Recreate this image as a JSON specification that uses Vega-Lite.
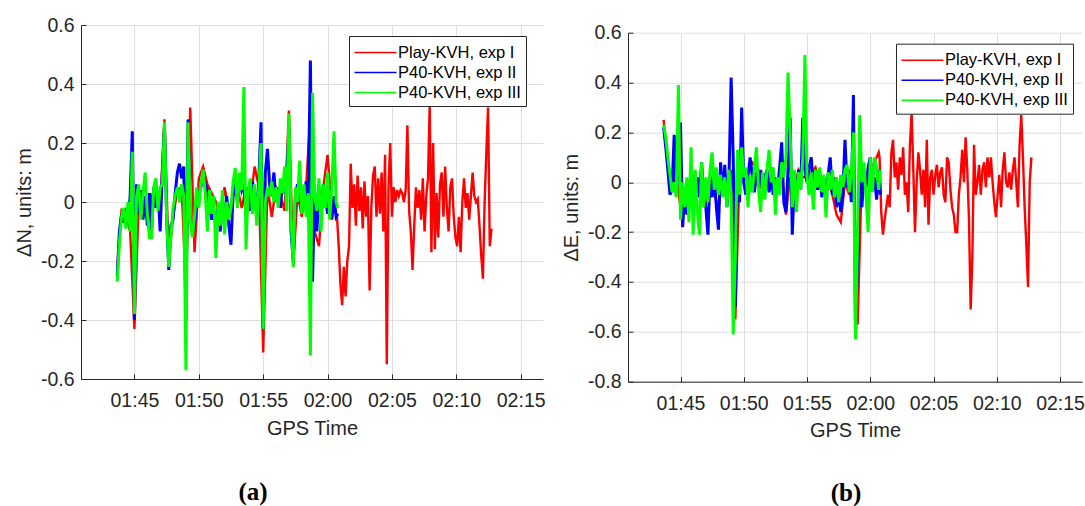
{
"$schema": "https://vega.github.io/schema/vega-lite/v6.json",
"background": "white",
"padding": {"left": 14, "top": 15, "right": 0, "bottom": 0},
"config": {
 "locale": {"number": {"decimal": ".", "thousands": ",", "grouping": [3], "currency": ["$", ""], "minus": "-"}},
 "view": {"stroke": null},
 "font": "Liberation Sans",
 "axis": {"labelFont": "Liberation Sans", "labelFontSize": 19.5, "labelColor": "#262626", "titleFont": "Liberation Sans", "titleFontSize": 20, "titleFontWeight": "normal", "titleColor": "#262626", "domainColor": "#262626", "tickColor": "#262626", "tickSize": -5, "gridColor": "#dfdfdf", "grid": true},
 "axisX": {"labelPadding": 17.5, "titlePadding": 8, "labelFlush": false, "labelOverlap": false},
 "axisY": {"labelPadding": 12, "titlePadding": 6},
 "concat": {"spacing": 15},
 "legend": {"orient": "none", "legendX": 268, "legendY": 11, "title": null, "symbolType": "M-2,0H2", "symbolSize": 441, "symbolStrokeWidth": 1.5, "symbolOffset": 10, "labelOffset": 11, "padding": 5, "rowPadding": 0, "strokeColor": "#262626", "fillColor": "#ffffff", "labelFont": "Liberation Sans", "labelFontSize": 16.5, "labelColor": "#000000"}
},
"data": {"values": [
{"s":"Play-KVH, exp I","t":"2000-01-01T01:43:40Z","n":-0.22,"e":0.25},
{"s":"Play-KVH, exp I","t":"2000-01-01T01:44:00Z","n":-0.03,"e":0.06},
{"s":"Play-KVH, exp I","t":"2000-01-01T01:44:20Z","n":-0.05,"e":-0.02},
{"s":"Play-KVH, exp I","t":"2000-01-01T01:44:40Z","n":-0.1,"e":0.02},
{"s":"Play-KVH, exp I","t":"2000-01-01T01:45:00Z","n":-0.43,"e":-0.1},
{"s":"Play-KVH, exp I","t":"2000-01-01T01:45:20Z","n":0.0,"e":-0.05},
{"s":"Play-KVH, exp I","t":"2000-01-01T01:45:40Z","n":-0.03,"e":0.0},
{"s":"Play-KVH, exp I","t":"2000-01-01T01:46:00Z","n":-0.05,"e":-0.08},
{"s":"Play-KVH, exp I","t":"2000-01-01T01:46:20Z","n":0.02,"e":0.0},
{"s":"Play-KVH, exp I","t":"2000-01-01T01:46:40Z","n":0.05,"e":-0.05},
{"s":"Play-KVH, exp I","t":"2000-01-01T01:47:00Z","n":-0.02,"e":-0.08},
{"s":"Play-KVH, exp I","t":"2000-01-01T01:47:20Z","n":0.28,"e":0.03},
{"s":"Play-KVH, exp I","t":"2000-01-01T01:47:40Z","n":-0.2,"e":-0.05},
{"s":"Play-KVH, exp I","t":"2000-01-01T01:48:00Z","n":-0.05,"e":-0.1},
{"s":"Play-KVH, exp I","t":"2000-01-01T01:48:20Z","n":0.04,"e":0.02},
{"s":"Play-KVH, exp I","t":"2000-01-01T01:48:40Z","n":0.05,"e":-0.03},
{"s":"Play-KVH, exp I","t":"2000-01-01T01:49:00Z","n":-0.3,"e":0.05},
{"s":"Play-KVH, exp I","t":"2000-01-01T01:49:20Z","n":0.32,"e":-0.55},
{"s":"Play-KVH, exp I","t":"2000-01-01T01:49:40Z","n":-0.17,"e":0.05},
{"s":"Play-KVH, exp I","t":"2000-01-01T01:50:00Z","n":0.08,"e":0.02},
{"s":"Play-KVH, exp I","t":"2000-01-01T01:50:20Z","n":0.12,"e":0.04},
{"s":"Play-KVH, exp I","t":"2000-01-01T01:50:40Z","n":0.06,"e":0.08},
{"s":"Play-KVH, exp I","t":"2000-01-01T01:51:00Z","n":0.03,"e":0.06},
{"s":"Play-KVH, exp I","t":"2000-01-01T01:51:20Z","n":0.0,"e":-0.02},
{"s":"Play-KVH, exp I","t":"2000-01-01T01:51:40Z","n":-0.05,"e":0.0},
{"s":"Play-KVH, exp I","t":"2000-01-01T01:52:00Z","n":0.05,"e":0.02},
{"s":"Play-KVH, exp I","t":"2000-01-01T01:52:20Z","n":-0.03,"e":-0.04},
{"s":"Play-KVH, exp I","t":"2000-01-01T01:52:40Z","n":0.02,"e":0.0},
{"s":"Play-KVH, exp I","t":"2000-01-01T01:53:00Z","n":0.05,"e":0.03},
{"s":"Play-KVH, exp I","t":"2000-01-01T01:53:20Z","n":-0.02,"e":-0.13},
{"s":"Play-KVH, exp I","t":"2000-01-01T01:53:40Z","n":0.05,"e":0.02},
{"s":"Play-KVH, exp I","t":"2000-01-01T01:54:00Z","n":0.0,"e":-0.03},
{"s":"Play-KVH, exp I","t":"2000-01-01T01:54:20Z","n":0.12,"e":0.05},
{"s":"Play-KVH, exp I","t":"2000-01-01T01:54:40Z","n":0.05,"e":0.02},
{"s":"Play-KVH, exp I","t":"2000-01-01T01:55:00Z","n":-0.51,"e":0.02},
{"s":"Play-KVH, exp I","t":"2000-01-01T01:55:20Z","n":0.05,"e":0.04},
{"s":"Play-KVH, exp I","t":"2000-01-01T01:55:40Z","n":-0.05,"e":0.06},
{"s":"Play-KVH, exp I","t":"2000-01-01T01:56:00Z","n":0.05,"e":0.0},
{"s":"Play-KVH, exp I","t":"2000-01-01T01:56:20Z","n":0.02,"e":-0.04},
{"s":"Play-KVH, exp I","t":"2000-01-01T01:56:40Z","n":-0.03,"e":0.02},
{"s":"Play-KVH, exp I","t":"2000-01-01T01:57:00Z","n":0.31,"e":-0.05},
{"s":"Play-KVH, exp I","t":"2000-01-01T01:57:20Z","n":-0.22,"e":-0.13},
{"s":"Play-KVH, exp I","t":"2000-01-01T01:57:40Z","n":0.03,"e":-0.16},
{"s":"Play-KVH, exp I","t":"2000-01-01T01:58:00Z","n":-0.05,"e":0.0},
{"s":"Play-KVH, exp I","t":"2000-01-01T01:58:20Z","n":0.05,"e":-0.05},
{"s":"Play-KVH, exp I","t":"2000-01-01T01:58:40Z","n":0.3,"e":0.1},
{"s":"Play-KVH, exp I","t":"2000-01-01T01:59:00Z","n":-0.1,"e":-0.57},
{"s":"Play-KVH, exp I","t":"2000-01-01T01:59:20Z","n":-0.15,"e":0.05},
{"s":"Play-KVH, exp I","t":"2000-01-01T01:59:40Z","n":0.05,"e":0.02},
{"s":"Play-KVH, exp I","t":"2000-01-01T02:00:00Z","n":0.16,"e":0.05},
{"s":"Play-KVH, exp I","t":"2000-01-01T02:00:20Z","n":-0.02,"e":0.08},
{"s":"Play-KVH, exp I","t":"2000-01-01T02:00:40Z","n":-0.04,"e":0.12},
{"s":"Play-KVH, exp I","t":"2000-01-01T02:00:44Z","n":-0.05,"e":0.1},
{"s":"Play-KVH, exp I","t":"2000-01-01T02:00:52Z","n":-0.15,"e":-0.12},
{"s":"Play-KVH, exp I","t":"2000-01-01T02:01:00Z","n":-0.28,"e":-0.21},
{"s":"Play-KVH, exp I","t":"2000-01-01T02:01:08Z","n":-0.35,"e":-0.15},
{"s":"Play-KVH, exp I","t":"2000-01-01T02:01:16Z","n":-0.22,"e":-0.1},
{"s":"Play-KVH, exp I","t":"2000-01-01T02:01:24Z","n":-0.32,"e":-0.05},
{"s":"Play-KVH, exp I","t":"2000-01-01T02:01:32Z","n":-0.2,"e":-0.1},
{"s":"Play-KVH, exp I","t":"2000-01-01T02:01:40Z","n":-0.15,"e":0.12},
{"s":"Play-KVH, exp I","t":"2000-01-01T02:01:48Z","n":0.13,"e":0.17},
{"s":"Play-KVH, exp I","t":"2000-01-01T02:01:56Z","n":-0.02,"e":0.02},
{"s":"Play-KVH, exp I","t":"2000-01-01T02:02:04Z","n":0.06,"e":0.08},
{"s":"Play-KVH, exp I","t":"2000-01-01T02:02:12Z","n":-0.08,"e":-0.03},
{"s":"Play-KVH, exp I","t":"2000-01-01T02:02:20Z","n":0.09,"e":0.1},
{"s":"Play-KVH, exp I","t":"2000-01-01T02:02:28Z","n":-0.03,"e":0.03},
{"s":"Play-KVH, exp I","t":"2000-01-01T02:02:36Z","n":0.05,"e":0.14},
{"s":"Play-KVH, exp I","t":"2000-01-01T02:02:44Z","n":-0.09,"e":-0.05},
{"s":"Play-KVH, exp I","t":"2000-01-01T02:02:52Z","n":0.07,"e":0.0},
{"s":"Play-KVH, exp I","t":"2000-01-01T02:03:00Z","n":-0.05,"e":-0.12},
{"s":"Play-KVH, exp I","t":"2000-01-01T02:03:08Z","n":0.02,"e":0.15},
{"s":"Play-KVH, exp I","t":"2000-01-01T02:03:16Z","n":-0.3,"e":0.28},
{"s":"Play-KVH, exp I","t":"2000-01-01T02:03:24Z","n":-0.02,"e":0.05},
{"s":"Play-KVH, exp I","t":"2000-01-01T02:03:32Z","n":0.09,"e":-0.2},
{"s":"Play-KVH, exp I","t":"2000-01-01T02:03:40Z","n":0.12,"e":0.0},
{"s":"Play-KVH, exp I","t":"2000-01-01T02:03:48Z","n":-0.05,"e":0.12},
{"s":"Play-KVH, exp I","t":"2000-01-01T02:03:56Z","n":0.08,"e":0.05},
{"s":"Play-KVH, exp I","t":"2000-01-01T02:04:04Z","n":-0.04,"e":-0.05},
{"s":"Play-KVH, exp I","t":"2000-01-01T02:04:12Z","n":0.1,"e":0.05},
{"s":"Play-KVH, exp I","t":"2000-01-01T02:04:20Z","n":-0.1,"e":-0.1},
{"s":"Play-KVH, exp I","t":"2000-01-01T02:04:28Z","n":0.16,"e":0.17},
{"s":"Play-KVH, exp I","t":"2000-01-01T02:04:36Z","n":-0.55,"e":-0.17},
{"s":"Play-KVH, exp I","t":"2000-01-01T02:04:44Z","n":0.05,"e":0.02},
{"s":"Play-KVH, exp I","t":"2000-01-01T02:04:52Z","n":0.2,"e":0.05},
{"s":"Play-KVH, exp I","t":"2000-01-01T02:05:00Z","n":-0.05,"e":-0.05},
{"s":"Play-KVH, exp I","t":"2000-01-01T02:05:08Z","n":0.05,"e":0.03},
{"s":"Play-KVH, exp I","t":"2000-01-01T02:05:16Z","n":0.0,"e":0.07},
{"s":"Play-KVH, exp I","t":"2000-01-01T02:05:24Z","n":0.04,"e":-0.02},
{"s":"Play-KVH, exp I","t":"2000-01-01T02:05:32Z","n":0.02,"e":0.04},
{"s":"Play-KVH, exp I","t":"2000-01-01T02:05:40Z","n":0.04,"e":0.06},
{"s":"Play-KVH, exp I","t":"2000-01-01T02:05:48Z","n":0.03,"e":-0.05},
{"s":"Play-KVH, exp I","t":"2000-01-01T02:05:56Z","n":0.0,"e":-0.08},
{"s":"Play-KVH, exp I","t":"2000-01-01T02:06:04Z","n":0.04,"e":0.1},
{"s":"Play-KVH, exp I","t":"2000-01-01T02:06:12Z","n":0.26,"e":0.08},
{"s":"Play-KVH, exp I","t":"2000-01-01T02:06:20Z","n":-0.03,"e":-0.03},
{"s":"Play-KVH, exp I","t":"2000-01-01T02:06:28Z","n":-0.1,"e":-0.1},
{"s":"Play-KVH, exp I","t":"2000-01-01T02:06:36Z","n":-0.23,"e":-0.13},
{"s":"Play-KVH, exp I","t":"2000-01-01T02:06:44Z","n":-0.08,"e":-0.2},
{"s":"Play-KVH, exp I","t":"2000-01-01T02:06:52Z","n":0.05,"e":-0.2},
{"s":"Play-KVH, exp I","t":"2000-01-01T02:07:00Z","n":-0.02,"e":-0.05},
{"s":"Play-KVH, exp I","t":"2000-01-01T02:07:08Z","n":0.04,"e":0.02},
{"s":"Play-KVH, exp I","t":"2000-01-01T02:07:16Z","n":-0.06,"e":0.13},
{"s":"Play-KVH, exp I","t":"2000-01-01T02:07:24Z","n":0.08,"e":0.0},
{"s":"Play-KVH, exp I","t":"2000-01-01T02:07:32Z","n":-0.1,"e":0.18},
{"s":"Play-KVH, exp I","t":"2000-01-01T02:07:40Z","n":0.02,"e":0.05},
{"s":"Play-KVH, exp I","t":"2000-01-01T02:07:48Z","n":0.08,"e":-0.15},
{"s":"Play-KVH, exp I","t":"2000-01-01T02:07:56Z","n":0.33,"e":-0.51},
{"s":"Play-KVH, exp I","t":"2000-01-01T02:08:04Z","n":-0.17,"e":-0.3},
{"s":"Play-KVH, exp I","t":"2000-01-01T02:08:12Z","n":0.2,"e":0.15},
{"s":"Play-KVH, exp I","t":"2000-01-01T02:08:20Z","n":-0.16,"e":-0.05},
{"s":"Play-KVH, exp I","t":"2000-01-01T02:08:28Z","n":0.03,"e":0.0},
{"s":"Play-KVH, exp I","t":"2000-01-01T02:08:36Z","n":-0.12,"e":0.07},
{"s":"Play-KVH, exp I","t":"2000-01-01T02:08:44Z","n":0.06,"e":-0.05},
{"s":"Play-KVH, exp I","t":"2000-01-01T02:08:52Z","n":0.1,"e":0.05},
{"s":"Play-KVH, exp I","t":"2000-01-01T02:09:00Z","n":-0.05,"e":0.08},
{"s":"Play-KVH, exp I","t":"2000-01-01T02:09:08Z","n":0.12,"e":-0.02},
{"s":"Play-KVH, exp I","t":"2000-01-01T02:09:16Z","n":-0.02,"e":0.1},
{"s":"Play-KVH, exp I","t":"2000-01-01T02:09:24Z","n":-0.1,"e":0.02},
{"s":"Play-KVH, exp I","t":"2000-01-01T02:09:32Z","n":0.05,"e":0.1},
{"s":"Play-KVH, exp I","t":"2000-01-01T02:09:40Z","n":0.08,"e":0.0},
{"s":"Play-KVH, exp I","t":"2000-01-01T02:09:48Z","n":-0.05,"e":-0.08},
{"s":"Play-KVH, exp I","t":"2000-01-01T02:09:56Z","n":-0.12,"e":-0.14},
{"s":"Play-KVH, exp I","t":"2000-01-01T02:10:04Z","n":-0.15,"e":-0.05},
{"s":"Play-KVH, exp I","t":"2000-01-01T02:10:12Z","n":-0.05,"e":0.03},
{"s":"Play-KVH, exp I","t":"2000-01-01T02:10:20Z","n":-0.17,"e":-0.1},
{"s":"Play-KVH, exp I","t":"2000-01-01T02:10:28Z","n":0.0,"e":0.05},
{"s":"Play-KVH, exp I","t":"2000-01-01T02:10:36Z","n":0.08,"e":0.12},
{"s":"Play-KVH, exp I","t":"2000-01-01T02:10:44Z","n":-0.02,"e":0.0},
{"s":"Play-KVH, exp I","t":"2000-01-01T02:10:52Z","n":0.03,"e":-0.02},
{"s":"Play-KVH, exp I","t":"2000-01-01T02:11:00Z","n":-0.06,"e":0.04},
{"s":"Play-KVH, exp I","t":"2000-01-01T02:11:08Z","n":0.02,"e":-0.03},
{"s":"Play-KVH, exp I","t":"2000-01-01T02:11:16Z","n":0.1,"e":0.05},
{"s":"Play-KVH, exp I","t":"2000-01-01T02:11:24Z","n":0.02,"e":0.1},
{"s":"Play-KVH, exp I","t":"2000-01-01T02:11:32Z","n":0.0,"e":0.0},
{"s":"Play-KVH, exp I","t":"2000-01-01T02:11:40Z","n":0.01,"e":-0.1},
{"s":"Play-KVH, exp I","t":"2000-01-01T02:11:48Z","n":-0.08,"e":0.15},
{"s":"Play-KVH, exp I","t":"2000-01-01T02:11:56Z","n":-0.18,"e":0.27},
{"s":"Play-KVH, exp I","t":"2000-01-01T02:12:04Z","n":-0.26,"e":0.1},
{"s":"Play-KVH, exp I","t":"2000-01-01T02:12:12Z","n":0.0,"e":-0.1},
{"s":"Play-KVH, exp I","t":"2000-01-01T02:12:20Z","n":0.17,"e":-0.25},
{"s":"Play-KVH, exp I","t":"2000-01-01T02:12:28Z","n":0.32,"e":-0.42},
{"s":"Play-KVH, exp I","t":"2000-01-01T02:12:36Z","n":-0.15,"e":0.0},
{"s":"Play-KVH, exp I","t":"2000-01-01T02:12:44Z","n":-0.09,"e":0.1},
{"s":"P40-KVH, exp II","t":"2000-01-01T01:43:40Z","n":-0.25,"e":0.22},
{"s":"P40-KVH, exp II","t":"2000-01-01T01:43:50Z","n":-0.1,"e":0.14},
{"s":"P40-KVH, exp II","t":"2000-01-01T01:44:00Z","n":-0.04,"e":0.05},
{"s":"P40-KVH, exp II","t":"2000-01-01T01:44:10Z","n":-0.07,"e":-0.05},
{"s":"P40-KVH, exp II","t":"2000-01-01T01:44:20Z","n":-0.02,"e":-0.03},
{"s":"P40-KVH, exp II","t":"2000-01-01T01:44:30Z","n":-0.08,"e":0.19},
{"s":"P40-KVH, exp II","t":"2000-01-01T01:44:40Z","n":0.02,"e":-0.04},
{"s":"P40-KVH, exp II","t":"2000-01-01T01:44:50Z","n":0.24,"e":0.05},
{"s":"P40-KVH, exp II","t":"2000-01-01T01:45:00Z","n":-0.4,"e":0.24},
{"s":"P40-KVH, exp II","t":"2000-01-01T01:45:10Z","n":0.06,"e":-0.18},
{"s":"P40-KVH, exp II","t":"2000-01-01T01:45:20Z","n":-0.04,"e":-0.05},
{"s":"P40-KVH, exp II","t":"2000-01-01T01:45:30Z","n":0.04,"e":-0.13},
{"s":"P40-KVH, exp II","t":"2000-01-01T01:45:40Z","n":-0.06,"e":0.0},
{"s":"P40-KVH, exp II","t":"2000-01-01T01:45:50Z","n":0.02,"e":-0.08},
{"s":"P40-KVH, exp II","t":"2000-01-01T01:46:00Z","n":-0.08,"e":0.03},
{"s":"P40-KVH, exp II","t":"2000-01-01T01:46:10Z","n":0.03,"e":-0.1},
{"s":"P40-KVH, exp II","t":"2000-01-01T01:46:20Z","n":-0.1,"e":0.02},
{"s":"P40-KVH, exp II","t":"2000-01-01T01:46:30Z","n":0.05,"e":-0.06},
{"s":"P40-KVH, exp II","t":"2000-01-01T01:46:40Z","n":-0.02,"e":0.08},
{"s":"P40-KVH, exp II","t":"2000-01-01T01:46:50Z","n":0.04,"e":-0.05},
{"s":"P40-KVH, exp II","t":"2000-01-01T01:47:00Z","n":-0.1,"e":-0.1},
{"s":"P40-KVH, exp II","t":"2000-01-01T01:47:10Z","n":0.1,"e":-0.21},
{"s":"P40-KVH, exp II","t":"2000-01-01T01:47:20Z","n":0.26,"e":0.02},
{"s":"P40-KVH, exp II","t":"2000-01-01T01:47:30Z","n":-0.05,"e":-0.06},
{"s":"P40-KVH, exp II","t":"2000-01-01T01:47:40Z","n":-0.23,"e":0.03},
{"s":"P40-KVH, exp II","t":"2000-01-01T01:47:50Z","n":-0.08,"e":-0.1},
{"s":"P40-KVH, exp II","t":"2000-01-01T01:48:00Z","n":-0.06,"e":-0.19},
{"s":"P40-KVH, exp II","t":"2000-01-01T01:48:10Z","n":0.03,"e":0.08},
{"s":"P40-KVH, exp II","t":"2000-01-01T01:48:20Z","n":0.1,"e":-0.05},
{"s":"P40-KVH, exp II","t":"2000-01-01T01:48:30Z","n":0.13,"e":0.07},
{"s":"P40-KVH, exp II","t":"2000-01-01T01:48:40Z","n":0.08,"e":-0.1},
{"s":"P40-KVH, exp II","t":"2000-01-01T01:48:50Z","n":0.12,"e":0.02},
{"s":"P40-KVH, exp II","t":"2000-01-01T01:49:00Z","n":-0.4,"e":0.42},
{"s":"P40-KVH, exp II","t":"2000-01-01T01:49:10Z","n":0.28,"e":0.1},
{"s":"P40-KVH, exp II","t":"2000-01-01T01:49:20Z","n":-0.05,"e":-0.5},
{"s":"P40-KVH, exp II","t":"2000-01-01T01:49:30Z","n":-0.1,"e":0.05},
{"s":"P40-KVH, exp II","t":"2000-01-01T01:49:40Z","n":-0.08,"e":-0.08},
{"s":"P40-KVH, exp II","t":"2000-01-01T01:49:50Z","n":0.0,"e":0.3},
{"s":"P40-KVH, exp II","t":"2000-01-01T01:50:00Z","n":0.03,"e":0.0},
{"s":"P40-KVH, exp II","t":"2000-01-01T01:50:10Z","n":0.05,"e":-0.05},
{"s":"P40-KVH, exp II","t":"2000-01-01T01:50:20Z","n":0.1,"e":0.02},
{"s":"P40-KVH, exp II","t":"2000-01-01T01:50:30Z","n":0.06,"e":0.1},
{"s":"P40-KVH, exp II","t":"2000-01-01T01:50:40Z","n":0.04,"e":0.03},
{"s":"P40-KVH, exp II","t":"2000-01-01T01:50:50Z","n":-0.02,"e":-0.04},
{"s":"P40-KVH, exp II","t":"2000-01-01T01:51:00Z","n":-0.06,"e":0.04},
{"s":"P40-KVH, exp II","t":"2000-01-01T01:51:10Z","n":-0.03,"e":-0.02},
{"s":"P40-KVH, exp II","t":"2000-01-01T01:51:20Z","n":-0.08,"e":0.05},
{"s":"P40-KVH, exp II","t":"2000-01-01T01:51:30Z","n":-0.02,"e":-0.03},
{"s":"P40-KVH, exp II","t":"2000-01-01T01:51:40Z","n":-0.1,"e":0.02},
{"s":"P40-KVH, exp II","t":"2000-01-01T01:51:50Z","n":0.0,"e":0.05},
{"s":"P40-KVH, exp II","t":"2000-01-01T01:52:00Z","n":-0.06,"e":-0.04},
{"s":"P40-KVH, exp II","t":"2000-01-01T01:52:10Z","n":0.02,"e":0.03},
{"s":"P40-KVH, exp II","t":"2000-01-01T01:52:20Z","n":-0.08,"e":-0.05},
{"s":"P40-KVH, exp II","t":"2000-01-01T01:52:30Z","n":-0.145,"e":0.02},
{"s":"P40-KVH, exp II","t":"2000-01-01T01:52:40Z","n":0.03,"e":-0.03},
{"s":"P40-KVH, exp II","t":"2000-01-01T01:52:50Z","n":0.06,"e":0.06},
{"s":"P40-KVH, exp II","t":"2000-01-01T01:53:00Z","n":0.0,"e":0.16},
{"s":"P40-KVH, exp II","t":"2000-01-01T01:53:10Z","n":0.08,"e":-0.08},
{"s":"P40-KVH, exp II","t":"2000-01-01T01:53:20Z","n":0.04,"e":-0.12},
{"s":"P40-KVH, exp II","t":"2000-01-01T01:53:30Z","n":0.06,"e":0.05},
{"s":"P40-KVH, exp II","t":"2000-01-01T01:53:40Z","n":-0.05,"e":0.26},
{"s":"P40-KVH, exp II","t":"2000-01-01T01:53:50Z","n":0.05,"e":-0.21},
{"s":"P40-KVH, exp II","t":"2000-01-01T01:54:00Z","n":-0.03,"e":0.0},
{"s":"P40-KVH, exp II","t":"2000-01-01T01:54:10Z","n":0.07,"e":-0.05},
{"s":"P40-KVH, exp II","t":"2000-01-01T01:54:20Z","n":0.03,"e":0.05},
{"s":"P40-KVH, exp II","t":"2000-01-01T01:54:30Z","n":-0.04,"e":-0.03},
{"s":"P40-KVH, exp II","t":"2000-01-01T01:54:40Z","n":0.08,"e":0.26},
{"s":"P40-KVH, exp II","t":"2000-01-01T01:54:50Z","n":0.27,"e":0.05},
{"s":"P40-KVH, exp II","t":"2000-01-01T01:55:00Z","n":-0.43,"e":0.0},
{"s":"P40-KVH, exp II","t":"2000-01-01T01:55:10Z","n":0.1,"e":0.06},
{"s":"P40-KVH, exp II","t":"2000-01-01T01:55:20Z","n":0.18,"e":0.1},
{"s":"P40-KVH, exp II","t":"2000-01-01T01:55:30Z","n":0.06,"e":-0.02},
{"s":"P40-KVH, exp II","t":"2000-01-01T01:55:40Z","n":0.02,"e":0.05},
{"s":"P40-KVH, exp II","t":"2000-01-01T01:55:50Z","n":0.1,"e":-0.03},
{"s":"P40-KVH, exp II","t":"2000-01-01T01:56:00Z","n":0.0,"e":0.04},
{"s":"P40-KVH, exp II","t":"2000-01-01T01:56:10Z","n":0.05,"e":-0.06},
{"s":"P40-KVH, exp II","t":"2000-01-01T01:56:20Z","n":-0.02,"e":0.02},
{"s":"P40-KVH, exp II","t":"2000-01-01T01:56:30Z","n":0.06,"e":-0.08},
{"s":"P40-KVH, exp II","t":"2000-01-01T01:56:40Z","n":0.03,"e":0.03},
{"s":"P40-KVH, exp II","t":"2000-01-01T01:56:50Z","n":0.08,"e":0.1},
{"s":"P40-KVH, exp II","t":"2000-01-01T01:57:00Z","n":0.25,"e":-0.05},
{"s":"P40-KVH, exp II","t":"2000-01-01T01:57:10Z","n":-0.1,"e":0.02},
{"s":"P40-KVH, exp II","t":"2000-01-01T01:57:20Z","n":-0.2,"e":-0.1},
{"s":"P40-KVH, exp II","t":"2000-01-01T01:57:30Z","n":0.02,"e":-0.04},
{"s":"P40-KVH, exp II","t":"2000-01-01T01:57:40Z","n":0.06,"e":-0.12},
{"s":"P40-KVH, exp II","t":"2000-01-01T01:57:50Z","n":0.0,"e":-0.05},
{"s":"P40-KVH, exp II","t":"2000-01-01T01:58:00Z","n":0.05,"e":0.17},
{"s":"P40-KVH, exp II","t":"2000-01-01T01:58:10Z","n":-0.02,"e":-0.02},
{"s":"P40-KVH, exp II","t":"2000-01-01T01:58:20Z","n":0.07,"e":0.05},
{"s":"P40-KVH, exp II","t":"2000-01-01T01:58:30Z","n":0.02,"e":-0.08},
{"s":"P40-KVH, exp II","t":"2000-01-01T01:58:40Z","n":0.48,"e":0.35},
{"s":"P40-KVH, exp II","t":"2000-01-01T01:58:50Z","n":-0.27,"e":-0.6},
{"s":"P40-KVH, exp II","t":"2000-01-01T01:59:00Z","n":0.04,"e":-0.3},
{"s":"P40-KVH, exp II","t":"2000-01-01T01:59:10Z","n":-0.1,"e":0.05},
{"s":"P40-KVH, exp II","t":"2000-01-01T01:59:20Z","n":0.03,"e":-0.1},
{"s":"P40-KVH, exp II","t":"2000-01-01T01:59:30Z","n":-0.05,"e":0.03},
{"s":"P40-KVH, exp II","t":"2000-01-01T01:59:40Z","n":0.06,"e":-0.02},
{"s":"P40-KVH, exp II","t":"2000-01-01T01:59:50Z","n":0.02,"e":0.06},
{"s":"P40-KVH, exp II","t":"2000-01-01T02:00:00Z","n":-0.04,"e":0.1},
{"s":"P40-KVH, exp II","t":"2000-01-01T02:00:10Z","n":0.05,"e":-0.03},
{"s":"P40-KVH, exp II","t":"2000-01-01T02:00:20Z","n":-0.06,"e":0.02},
{"s":"P40-KVH, exp II","t":"2000-01-01T02:00:30Z","n":0.02,"e":-0.07},
{"s":"P40-KVH, exp II","t":"2000-01-01T02:00:40Z","n":-0.05,"e":0.05},
{"s":"P40-KVH, exp II","t":"2000-01-01T02:00:48Z","n":-0.04,"e":-0.05},
{"s":"P40-KVH, exp III","t":"2000-01-01T01:43:40Z","n":-0.27,"e":0.23},
{"s":"P40-KVH, exp III","t":"2000-01-01T01:43:50Z","n":-0.14,"e":0.18},
{"s":"P40-KVH, exp III","t":"2000-01-01T01:44:00Z","n":-0.05,"e":0.1},
{"s":"P40-KVH, exp III","t":"2000-01-01T01:44:10Z","n":-0.02,"e":0.03},
{"s":"P40-KVH, exp III","t":"2000-01-01T01:44:20Z","n":-0.09,"e":-0.04},
{"s":"P40-KVH, exp III","t":"2000-01-01T01:44:30Z","n":0.0,"e":0.0},
{"s":"P40-KVH, exp III","t":"2000-01-01T01:44:40Z","n":-0.1,"e":-0.06},
{"s":"P40-KVH, exp III","t":"2000-01-01T01:44:50Z","n":0.17,"e":0.39},
{"s":"P40-KVH, exp III","t":"2000-01-01T01:45:00Z","n":-0.38,"e":-0.15},
{"s":"P40-KVH, exp III","t":"2000-01-01T01:45:10Z","n":0.02,"e":0.0},
{"s":"P40-KVH, exp III","t":"2000-01-01T01:45:20Z","n":0.06,"e":-0.1},
{"s":"P40-KVH, exp III","t":"2000-01-01T01:45:30Z","n":-0.06,"e":0.02},
{"s":"P40-KVH, exp III","t":"2000-01-01T01:45:40Z","n":0.03,"e":-0.16},
{"s":"P40-KVH, exp III","t":"2000-01-01T01:45:50Z","n":0.1,"e":0.14},
{"s":"P40-KVH, exp III","t":"2000-01-01T01:46:00Z","n":-0.04,"e":-0.21},
{"s":"P40-KVH, exp III","t":"2000-01-01T01:46:10Z","n":-0.12,"e":0.05},
{"s":"P40-KVH, exp III","t":"2000-01-01T01:46:20Z","n":-0.12,"e":-0.12},
{"s":"P40-KVH, exp III","t":"2000-01-01T01:46:30Z","n":0.05,"e":-0.21},
{"s":"P40-KVH, exp III","t":"2000-01-01T01:46:40Z","n":0.08,"e":0.08},
{"s":"P40-KVH, exp III","t":"2000-01-01T01:46:50Z","n":-0.03,"e":-0.1},
{"s":"P40-KVH, exp III","t":"2000-01-01T01:47:00Z","n":0.05,"e":0.02},
{"s":"P40-KVH, exp III","t":"2000-01-01T01:47:10Z","n":0.06,"e":-0.08},
{"s":"P40-KVH, exp III","t":"2000-01-01T01:47:20Z","n":0.27,"e":0.05},
{"s":"P40-KVH, exp III","t":"2000-01-01T01:47:30Z","n":-0.05,"e":0.12},
{"s":"P40-KVH, exp III","t":"2000-01-01T01:47:40Z","n":-0.22,"e":-0.03},
{"s":"P40-KVH, exp III","t":"2000-01-01T01:47:50Z","n":-0.12,"e":0.06},
{"s":"P40-KVH, exp III","t":"2000-01-01T01:48:00Z","n":-0.02,"e":-0.05},
{"s":"P40-KVH, exp III","t":"2000-01-01T01:48:10Z","n":0.02,"e":0.03},
{"s":"P40-KVH, exp III","t":"2000-01-01T01:48:20Z","n":0.05,"e":-0.06},
{"s":"P40-KVH, exp III","t":"2000-01-01T01:48:30Z","n":0.0,"e":0.02},
{"s":"P40-KVH, exp III","t":"2000-01-01T01:48:40Z","n":0.06,"e":-0.1},
{"s":"P40-KVH, exp III","t":"2000-01-01T01:48:50Z","n":0.02,"e":0.05},
{"s":"P40-KVH, exp III","t":"2000-01-01T01:49:00Z","n":-0.57,"e":-0.05},
{"s":"P40-KVH, exp III","t":"2000-01-01T01:49:10Z","n":0.27,"e":-0.61},
{"s":"P40-KVH, exp III","t":"2000-01-01T01:49:20Z","n":-0.06,"e":-0.3},
{"s":"P40-KVH, exp III","t":"2000-01-01T01:49:30Z","n":-0.12,"e":0.13},
{"s":"P40-KVH, exp III","t":"2000-01-01T01:49:40Z","n":-0.05,"e":-0.05},
{"s":"P40-KVH, exp III","t":"2000-01-01T01:49:50Z","n":0.05,"e":0.14},
{"s":"P40-KVH, exp III","t":"2000-01-01T01:50:00Z","n":-0.02,"e":0.02},
{"s":"P40-KVH, exp III","t":"2000-01-01T01:50:10Z","n":0.06,"e":0.06},
{"s":"P40-KVH, exp III","t":"2000-01-01T01:50:20Z","n":0.11,"e":-0.1},
{"s":"P40-KVH, exp III","t":"2000-01-01T01:50:30Z","n":0.03,"e":0.03},
{"s":"P40-KVH, exp III","t":"2000-01-01T01:50:40Z","n":-0.1,"e":-0.04},
{"s":"P40-KVH, exp III","t":"2000-01-01T01:50:50Z","n":0.04,"e":0.05},
{"s":"P40-KVH, exp III","t":"2000-01-01T01:51:00Z","n":-0.04,"e":0.14},
{"s":"P40-KVH, exp III","t":"2000-01-01T01:51:10Z","n":0.02,"e":-0.03},
{"s":"P40-KVH, exp III","t":"2000-01-01T01:51:20Z","n":-0.19,"e":-0.12},
{"s":"P40-KVH, exp III","t":"2000-01-01T01:51:30Z","n":0.0,"e":0.04},
{"s":"P40-KVH, exp III","t":"2000-01-01T01:51:40Z","n":-0.08,"e":-0.07},
{"s":"P40-KVH, exp III","t":"2000-01-01T01:51:50Z","n":0.04,"e":0.05},
{"s":"P40-KVH, exp III","t":"2000-01-01T01:52:00Z","n":-0.11,"e":0.13},
{"s":"P40-KVH, exp III","t":"2000-01-01T01:52:10Z","n":0.0,"e":0.0},
{"s":"P40-KVH, exp III","t":"2000-01-01T01:52:20Z","n":-0.06,"e":0.06},
{"s":"P40-KVH, exp III","t":"2000-01-01T01:52:30Z","n":-0.02,"e":-0.13},
{"s":"P40-KVH, exp III","t":"2000-01-01T01:52:40Z","n":0.07,"e":0.02},
{"s":"P40-KVH, exp III","t":"2000-01-01T01:52:50Z","n":0.115,"e":-0.05},
{"s":"P40-KVH, exp III","t":"2000-01-01T01:53:00Z","n":-0.02,"e":0.08},
{"s":"P40-KVH, exp III","t":"2000-01-01T01:53:10Z","n":0.1,"e":0.02},
{"s":"P40-KVH, exp III","t":"2000-01-01T01:53:20Z","n":0.04,"e":0.1},
{"s":"P40-KVH, exp III","t":"2000-01-01T01:53:30Z","n":0.39,"e":0.44},
{"s":"P40-KVH, exp III","t":"2000-01-01T01:53:40Z","n":-0.16,"e":0.2},
{"s":"P40-KVH, exp III","t":"2000-01-01T01:53:50Z","n":0.04,"e":-0.1},
{"s":"P40-KVH, exp III","t":"2000-01-01T01:54:00Z","n":0.08,"e":0.05},
{"s":"P40-KVH, exp III","t":"2000-01-01T01:54:10Z","n":-0.04,"e":-0.12},
{"s":"P40-KVH, exp III","t":"2000-01-01T01:54:20Z","n":0.06,"e":0.04},
{"s":"P40-KVH, exp III","t":"2000-01-01T01:54:30Z","n":-0.08,"e":-0.03},
{"s":"P40-KVH, exp III","t":"2000-01-01T01:54:40Z","n":0.05,"e":0.1},
{"s":"P40-KVH, exp III","t":"2000-01-01T01:54:50Z","n":0.2,"e":0.51},
{"s":"P40-KVH, exp III","t":"2000-01-01T01:55:00Z","n":-0.43,"e":0.02},
{"s":"P40-KVH, exp III","t":"2000-01-01T01:55:10Z","n":0.0,"e":-0.05},
{"s":"P40-KVH, exp III","t":"2000-01-01T01:55:20Z","n":0.05,"e":0.04},
{"s":"P40-KVH, exp III","t":"2000-01-01T01:55:30Z","n":0.02,"e":-0.11},
{"s":"P40-KVH, exp III","t":"2000-01-01T01:55:40Z","n":0.07,"e":0.05},
{"s":"P40-KVH, exp III","t":"2000-01-01T01:55:50Z","n":0.0,"e":-0.02},
{"s":"P40-KVH, exp III","t":"2000-01-01T01:56:00Z","n":0.05,"e":0.06},
{"s":"P40-KVH, exp III","t":"2000-01-01T01:56:10Z","n":-0.02,"e":-0.04},
{"s":"P40-KVH, exp III","t":"2000-01-01T01:56:20Z","n":0.08,"e":0.03},
{"s":"P40-KVH, exp III","t":"2000-01-01T01:56:30Z","n":0.03,"e":-0.14},
{"s":"P40-KVH, exp III","t":"2000-01-01T01:56:40Z","n":0.12,"e":0.04},
{"s":"P40-KVH, exp III","t":"2000-01-01T01:56:50Z","n":-0.03,"e":-0.03},
{"s":"P40-KVH, exp III","t":"2000-01-01T01:57:00Z","n":0.3,"e":0.05},
{"s":"P40-KVH, exp III","t":"2000-01-01T01:57:10Z","n":-0.05,"e":-0.06},
{"s":"P40-KVH, exp III","t":"2000-01-01T01:57:20Z","n":-0.22,"e":0.02},
{"s":"P40-KVH, exp III","t":"2000-01-01T01:57:30Z","n":0.05,"e":-0.08},
{"s":"P40-KVH, exp III","t":"2000-01-01T01:57:40Z","n":0.0,"e":0.03},
{"s":"P40-KVH, exp III","t":"2000-01-01T01:57:50Z","n":0.14,"e":-0.02},
{"s":"P40-KVH, exp III","t":"2000-01-01T01:58:00Z","n":-0.04,"e":0.05},
{"s":"P40-KVH, exp III","t":"2000-01-01T01:58:10Z","n":0.06,"e":0.07},
{"s":"P40-KVH, exp III","t":"2000-01-01T01:58:20Z","n":-0.05,"e":-0.04},
{"s":"P40-KVH, exp III","t":"2000-01-01T01:58:30Z","n":0.03,"e":0.03},
{"s":"P40-KVH, exp III","t":"2000-01-01T01:58:40Z","n":-0.52,"e":0.2},
{"s":"P40-KVH, exp III","t":"2000-01-01T01:58:50Z","n":0.37,"e":-0.63},
{"s":"P40-KVH, exp III","t":"2000-01-01T01:59:00Z","n":0.02,"e":-0.2},
{"s":"P40-KVH, exp III","t":"2000-01-01T01:59:10Z","n":-0.03,"e":0.27},
{"s":"P40-KVH, exp III","t":"2000-01-01T01:59:20Z","n":0.08,"e":0.0},
{"s":"P40-KVH, exp III","t":"2000-01-01T01:59:30Z","n":-0.1,"e":0.08},
{"s":"P40-KVH, exp III","t":"2000-01-01T01:59:40Z","n":0.06,"e":-0.06},
{"s":"P40-KVH, exp III","t":"2000-01-01T01:59:50Z","n":-0.02,"e":-0.2},
{"s":"P40-KVH, exp III","t":"2000-01-01T02:00:00Z","n":0.1,"e":0.1},
{"s":"P40-KVH, exp III","t":"2000-01-01T02:00:10Z","n":-0.06,"e":-0.04},
{"s":"P40-KVH, exp III","t":"2000-01-01T02:00:20Z","n":0.05,"e":0.1},
{"s":"P40-KVH, exp III","t":"2000-01-01T02:00:30Z","n":0.24,"e":0.06},
{"s":"P40-KVH, exp III","t":"2000-01-01T02:00:40Z","n":0.0,"e":-0.03},
{"s":"P40-KVH, exp III","t":"2000-01-01T02:00:48Z","n":-0.02,"e":0.05}
]},
"resolve": {"legend": {"color": "independent"}},
"hconcat": [
 {
  "width": 462, "height": 354,
  "title": {"text": "(a)", "orient": "bottom", "anchor": "middle", "frame": "group", "dx": -59, "offset": 42, "font": "Liberation Serif", "fontSize": 25, "fontWeight": "bold", "color": "#000000"},
  "encoding": {
   "x": {"field": "t", "type": "temporal", "scale": {"type": "utc", "domain": [946690851000, 946693004000]}, "axis": {"title": "GPS Time", "format": "%H:%M", "values": [946691100000, 946691400000, 946691700000, 946692000000, 946692300000, 946692600000, 946692900000]}},
   "y": {"field": "n", "type": "quantitative", "scale": {"domain": [-0.6, 0.6], "nice": false}, "axis": {"title": "ΔN, units: m", "values": [-0.6, -0.4, -0.2, 0, 0.2, 0.4, 0.6], "format": ".1~f"}},
   "color": {"field": "s", "type": "nominal", "scale": {"domain": ["Play-KVH, exp I", "P40-KVH, exp II", "P40-KVH, exp III"], "range": ["#ff0000", "#0000ff", "#00ff00"]}}
  },
  "layer": [
   {"transform": [{"filter": {"field": "s", "equal": "Play-KVH, exp I"}}], "mark": {"type": "line", "strokeWidth": 2.4, "clip": true}},
   {"transform": [{"filter": {"field": "s", "equal": "P40-KVH, exp II"}}], "mark": {"type": "line", "strokeWidth": 3, "clip": true}},
   {"transform": [{"filter": {"field": "s", "equal": "P40-KVH, exp III"}}], "mark": {"type": "line", "strokeWidth": 3, "clip": true}}
  ]
 },
 {
  "resolve": {"legend": {"color": "independent"}},
  "spacing": -3.3,
  "vconcat": [
   {"width": 1, "height": 1, "data": {"values": []}, "mark": "point"},
   {
    "width": 454, "height": 349,
    "title": {"text": "(b)", "orient": "bottom", "anchor": "middle", "frame": "group", "dx": -9, "offset": 40, "font": "Liberation Serif", "fontSize": 25, "fontWeight": "bold", "color": "#000000"},
    "encoding": {
     "x": {"field": "t", "type": "temporal", "scale": {"type": "utc", "domain": [946690851000, 946693004000]}, "axis": {"title": "GPS Time", "format": "%H:%M", "values": [946691100000, 946691400000, 946691700000, 946692000000, 946692300000, 946692600000, 946692900000]}},
     "y": {"field": "e", "type": "quantitative", "scale": {"domain": [-0.8, 0.6], "nice": false}, "axis": {"title": "ΔE, units: m", "values": [-0.8, -0.6, -0.4, -0.2, 0, 0.2, 0.4, 0.6], "format": ".1~f"}},
     "color": {"field": "s", "type": "nominal", "scale": {"domain": ["Play-KVH, exp I", "P40-KVH, exp II", "P40-KVH, exp III"], "range": ["#ff0000", "#0000ff", "#00ff00"]}}
    },
    "layer": [
     {"transform": [{"filter": {"field": "s", "equal": "Play-KVH, exp I"}}], "mark": {"type": "line", "strokeWidth": 2.4, "clip": true}},
     {"transform": [{"filter": {"field": "s", "equal": "P40-KVH, exp II"}}], "mark": {"type": "line", "strokeWidth": 3, "clip": true}},
     {"transform": [{"filter": {"field": "s", "equal": "P40-KVH, exp III"}}], "mark": {"type": "line", "strokeWidth": 3, "clip": true}}
    ]
   }
  ]
 }
]
}
